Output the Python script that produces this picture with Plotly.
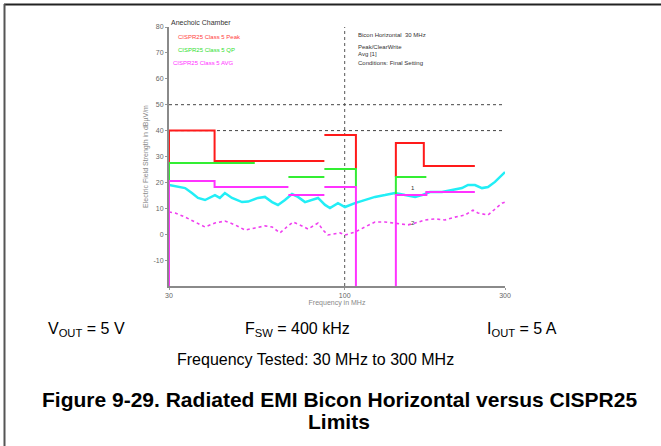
import math
import plotly.graph_objects as go

# ---- data ----
peak_freq = [30.0, 31.3, 33.5, 35.1, 36.6, 38.4, 41.1, 42.5, 44.0, 46.2, 49.5, 51.6, 55.2, 57.9,
             60.8, 63.3, 66.4, 69.7, 72.6, 76.2, 79.9, 83.3, 87.4, 90.4, 95.5, 100.2, 107.3,
             114.9, 123.1, 131.8, 141.2, 151.2, 162.0, 169.9, 179.4, 194.8, 208.6, 223.4,
             232.8, 244.2, 256.2, 267.0, 280.1, 293.9, 300.0]
peak_level = [19.0, 18.6, 17.8, 15.9, 14.0, 13.2, 15.1, 14.0, 15.9, 14.0, 12.4, 12.6, 14.0, 14.4,
              12.4, 11.3, 13.2, 15.5, 14.4, 12.4, 13.2, 14.0, 11.3, 10.1, 12.0, 10.5, 12.0,
              13.2, 14.4, 15.1, 15.9, 15.1, 14.4, 15.1, 16.3, 16.3, 17.1, 17.8,
              19.0, 19.0, 17.8, 18.2, 20.2, 22.9, 24.0]

avg_freq = [30.0, 31.3, 33.5, 35.8, 38.4, 41.1, 44.0, 47.2, 50.5, 54.1, 57.9, 60.8, 64.2, 67.3,
            70.2, 74.6, 77.8, 83.3, 86.2, 89.2, 96.8, 100.2, 107.3, 114.9, 123.1, 131.8,
            141.2, 154.4, 162.0, 173.4, 185.6, 198.8, 213.0, 228.1, 240.9, 249.3, 267.0,
            280.1, 293.9, 300.0]
avg_level = [8.6, 8.2, 6.6, 4.7, 2.8, 4.3, 5.1, 3.6, 1.6, 2.4, 3.2, 2.8, 0.5, 2.8,
             4.7, 3.2, 2.0, 4.3, 1.6, -0.3, 0.5, -0.3, 0.8, 2.8, 4.7, 4.7,
             4.3, 3.6, 4.3, 5.5, 5.9, 5.5, 6.6, 7.4, 9.3, 8.2, 7.4,
             9.7, 12.0, 12.4]

# CISPR25 limit lines (None = gap between bands)
pk_lim_freq = [30, 30, 41, 41, 87, None, 87, 108, 108, None, 142, 142, 172, 172, 244]
pk_lim_level = [27.5, 40, 40, 28.3, 28.3, None, 38.3, 38.3, 25.2, None, 22.1, 35.2, 35.2, 26.3, 26.3]

qp_lim_freq = [30, 30, 54, None, 68, 87, None, 87, 108, 108, None, 142, 142, 175]
qp_lim_level = [20.5, 27.5, 27.5, None, 22.1, 22.1, None, 25.2, 25.2, 18.2, None, 15.1, 22.1, 22.1]

av_lim_freq = [30, 30, 41, 41, 68, None, 68, 87, None, 87, 108, 108, None, 142, 142, 175, 175, 244]
av_lim_level = [-20, 20.5, 20.5, 18.2, 18.2, None, 15.1, 15.1, None, 18.2, 18.2, -20, None, -20, 15.1, 15.1, 16.3, 16.3]

ref_levels = [50, 40]
ref_freq = 100
x_range = [30, 300]
y_range = [-20, 80]
y_ticks = [-10, 0, 10, 20, 30, 40, 50, 60, 70, 80]
x_ticks = [30, 100, 300]

legend_names = ["CISPR25 Class 5 Peak", "CISPR25 Class 5 QP", "CISPR25 Class 5 AVG"]
info_lines = ["Bicon Horizontal  30 MHz", "Peak/ClearWrite", "Avg [1]", "Conditions: Final Setting"]

# ---- figure ----
fig = go.Figure()

for lv in ref_levels:
    fig.add_trace(go.Scatter(x=x_range, y=[lv, lv], mode="lines",
                             line=dict(color="#444", width=1, dash="dot"), hoverinfo="skip"))
fig.add_trace(go.Scatter(x=[ref_freq, ref_freq], y=y_range, mode="lines",
                         line=dict(color="#555", width=1, dash="dot"), hoverinfo="skip"))

fig.add_trace(go.Scatter(x=peak_freq, y=peak_level, mode="lines",
                         line=dict(color="#22EEF6", width=2.5), name="Peak"))
fig.add_trace(go.Scatter(x=avg_freq, y=avg_level, mode="lines",
                         line=dict(color="#F040F0", width=1.6, dash="dot"), name="Avg"))

fig.add_trace(go.Scatter(x=pk_lim_freq, y=pk_lim_level, mode="lines", connectgaps=False,
                         line=dict(color="#FF1A1A", width=2), name=legend_names[0]))
fig.add_trace(go.Scatter(x=qp_lim_freq, y=qp_lim_level, mode="lines", connectgaps=False,
                         line=dict(color="#33EE33", width=2), name=legend_names[1]))
fig.add_trace(go.Scatter(x=av_lim_freq, y=av_lim_level, mode="lines", connectgaps=False,
                         line=dict(color="#FF33FF", width=2), name=legend_names[2]))

L, R, T, B = 169, 156, 27, 160
W, H = 661, 446
pw, ph = W - L - R, H - T - B


def px(x):
    return (x - L) / pw


def py(y):
    return (H - B - y) / ph


fig.update_layout(
    width=W, height=H,
    margin=dict(l=L, r=R, t=T, b=B, autoexpand=False),
    paper_bgcolor="white", plot_bgcolor="white",
    showlegend=False,
    font=dict(family="Liberation Sans, Arial, sans-serif", color="#000"),
    xaxis=dict(type="log", range=[math.log10(x_range[0]), math.log10(x_range[1])],
               showgrid=False, zeroline=False, showline=True, linecolor="#8a8a8a", linewidth=2,
               tickvals=x_ticks, ticktext=[str(v) for v in x_ticks], ticks="outside", ticklen=2,
               tickcolor="#999", tickfont=dict(size=7, color="#666"),
               title=dict(text="Frequency in MHz", font=dict(size=7, color="#888"), standoff=2)),
    yaxis=dict(range=y_range, showgrid=False, zeroline=False, showline=True,
               linecolor="#8a8a8a", linewidth=2, tickvals=y_ticks,
               ticktext=[str(v) for v in y_ticks], ticks="outside", ticklen=2, tickcolor="#999",
               tickfont=dict(size=7, color="#666"),
               title=dict(text="Electric Field Strength in dBµV/m", font=dict(size=7, color="#888"),
                          standoff=4)),
)

ann = []
ann.append(dict(text="Anechoic Chamber", x=px(169), y=py(22), xanchor="left", yanchor="middle",
                font=dict(size=7, color="#333")))
leg_colors = ["#FF4040", "#30E030", "#FF30FF"]
leg_pos = [(176, 37), (176, 50), (171, 63)]
for name, c, (xx, yy) in zip(legend_names, leg_colors, leg_pos):
    ann.append(dict(text=name, x=px(xx), y=py(yy), xanchor="left", yanchor="middle",
                    font=dict(size=6, color=c)))
for line, yy in zip(info_lines, [35, 47.5, 53.5, 63]):
    ann.append(dict(text=line, x=px(356), y=py(yy), xanchor="left", yanchor="middle",
                    font=dict(size=6, color="#333")))
# marker labels
for txt, lv in [("1", 17.8), ("2", 4.5)]:
    ann.append(dict(text=txt, x=math.log10(159.6), y=lv, xref="x", yref="y", showarrow=False,
                    font=dict(size=6, color="#333")))

big = "Liberation Sans, Arial, sans-serif"
ann.append(dict(text="V<sub>OUT</sub> = 5 V", x=px(86), y=py(329), xanchor="center", yanchor="middle",
                font=dict(size=16, family=big)))
ann.append(dict(text="F<sub>SW</sub> = 400 kHz", x=px(297.5), y=py(329), xanchor="center", yanchor="middle",
                font=dict(size=16, family=big)))
ann.append(dict(text="I<sub>OUT</sub> = 5 A", x=px(522), y=py(329), xanchor="center", yanchor="middle",
                font=dict(size=16, family=big)))
ann.append(dict(text="Frequency Tested: 30 MHz to 300 MHz", x=px(315), y=py(360), xanchor="center",
                yanchor="middle", font=dict(size=16, family=big)))
ann.append(dict(text="<b>Figure 9-29. Radiated EMI Bicon Horizontal versus CISPR25</b>", x=px(339),
                y=py(399), xanchor="center", yanchor="middle", font=dict(size=21, family=big)))
ann.append(dict(text="<b>Limits</b>", x=px(339), y=py(421), xanchor="center", yanchor="middle",
                font=dict(size=21, family=big)))

for a in ann:
    a.setdefault("xref", "paper")
    a.setdefault("yref", "paper")
    a.setdefault("showarrow", False)
fig.update_layout(annotations=ann)

fig.update_layout(shapes=[
    dict(type="line", xref="paper", yref="paper", x0=px(4), x1=px(661), y0=py(4.5), y1=py(4.5),
         line=dict(color="#222", width=2)),
    dict(type="line", xref="paper", yref="paper", x0=px(4.5), x1=px(4.5), y0=py(4), y1=py(446),
         line=dict(color="#555", width=2)),
])

fig.write_html("out.html", config={"displayModeBar": False},
               post_script="document.body.style.margin='0px';")
